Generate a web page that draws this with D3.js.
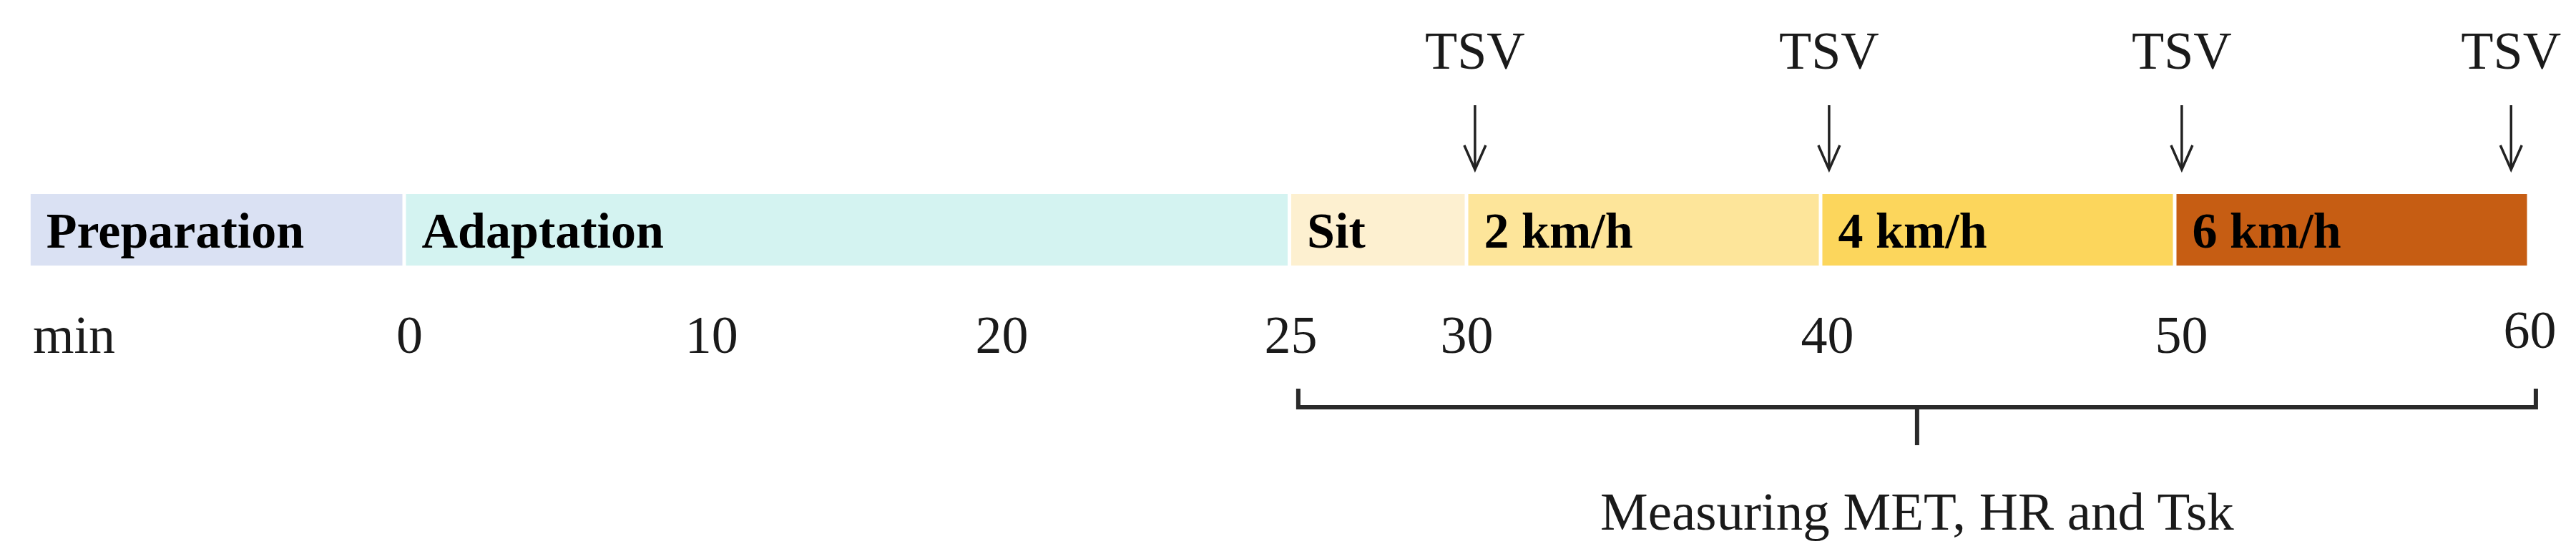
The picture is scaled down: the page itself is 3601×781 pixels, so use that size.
<!DOCTYPE html>
<html>
<head>
<meta charset="utf-8">
<script src="https://cdn.jsdelivr.net/npm/d3@7"></script>
<style>
  html, body { margin: 0; padding: 0; background: #fff; }
  svg { display: block; }
</style>
</head>
<body>
<div id="chart"></div>
<script>
// ---- data ----
const phases     = ["Preparation", "Adaptation", "Sit", "2 km/h", "4 km/h", "6 km/h"];
const phaseStart = [-10.6, 0, 25, 30, 40, 50];
const phaseEnd   = [0, 25, 30, 40, 50, 60];
const phaseColors = ["#dae1f3", "#d4f3f1", "#fdf0d0", "#fde59a", "#fcd65c", "#c65d13"];

const tickLabels = ["0", "10", "20", "25", "30", "40", "50", "60"];
const tickAt     = [0.14, 8.67, 16.87, 25.03, 30.0, 40.18, 50.18, 60.02];

const tsvLabel = "TSV";
const tsvAt    = [30.24, 40.24, 50.2, 59.5];

const unitLabel = "min";
const bracketRange = [25.25, 60.2];
const bracketLabel = "Measuring MET, HR and Tsk";

// ---- layout ----
const W = 3601, H = 781;
const serif = "'Liberation Serif', 'Times New Roman', Times, serif";
const ink = "#1a1a1a";

const svg = d3.select("#chart").append("svg")
  .attr("width", W).attr("height", H)
  .attr("viewBox", `0 0 ${W} ${H}`);

svg.append("rect").attr("width", W).attr("height", H).attr("fill", "#fff");

const x = d3.scaleLinear().domain([0, 60]).range([565, 3535]);

const barTop = 271, barBottom = 371, gap = 2.5;

const segs = phases.map((p, i) => ({ name: p, s: phaseStart[i], e: phaseEnd[i], c: phaseColors[i] }));

// bars
svg.append("g").selectAll("rect").data(segs).join("rect")
  .attr("x", d => x(d.s) + gap)
  .attr("y", barTop)
  .attr("width", d => x(d.e) - x(d.s) - 2 * gap)
  .attr("height", barBottom - barTop)
  .attr("fill", d => d.c);

// bar labels
svg.append("g").selectAll("text").data(segs).join("text")
  .attr("x", d => x(d.s) + gap + 22)
  .attr("y", 346)
  .attr("font-family", serif)
  .attr("font-weight", "bold")
  .attr("font-size", 70)
  .attr("fill", "#000")
  .text(d => d.name);

// time axis (labels only)
const axis = d3.axisBottom(x)
  .tickValues(tickAt)
  .tickFormat((d, i) => tickLabels[i])
  .tickSize(0)
  .tickPadding(0);

const gAxis = svg.append("g").attr("transform", "translate(0,493)").call(axis);
gAxis.select(".domain").remove();
gAxis.selectAll("text")
  .attr("y", 0)
  .attr("dy", (d, i) => i === tickLabels.length - 1 ? -7 : 0)
  .attr("font-family", serif)
  .attr("font-size", 74)
  .attr("fill", ink);

svg.append("text")
  .attr("x", 46).attr("y", 493)
  .attr("font-family", serif)
  .attr("font-size", 74)
  .attr("fill", ink)
  .text(unitLabel);

// TSV labels and arrows
const gT = svg.append("g");
gT.selectAll("text").data(tsvAt).join("text")
  .attr("x", d => x(d))
  .attr("y", 96)
  .attr("text-anchor", "middle")
  .attr("font-family", serif)
  .attr("font-size", 74)
  .attr("fill", ink)
  .text(tsvLabel);

gT.selectAll("path.shaft").data(tsvAt).join("path")
  .attr("class", "shaft")
  .attr("d", d => `M${x(d)},147 V236`)
  .attr("stroke", "#222").attr("stroke-width", 3.5).attr("fill", "none");

gT.selectAll("path.head").data(tsvAt).join("path")
  .attr("class", "head")
  .attr("d", d => `M${x(d) - 15},203 L${x(d)},237 L${x(d) + 15},203`)
  .attr("stroke", "#222").attr("stroke-width", 3.5).attr("fill", "none")
  .attr("stroke-linejoin", "miter");

// bracket
const bx0 = x(bracketRange[0]), bx1 = x(bracketRange[1]), bmid = (bx0 + bx1) / 2;
svg.append("path")
  .attr("d", `M${bx0},543 V569 H${bx1} V543`)
  .attr("stroke", "#2a2a2a").attr("stroke-width", 6).attr("fill", "none");
svg.append("path")
  .attr("d", `M${bmid},569 V622`)
  .attr("stroke", "#2a2a2a").attr("stroke-width", 6).attr("fill", "none");

svg.append("text")
  .attr("x", bmid).attr("y", 740)
  .attr("text-anchor", "middle")
  .attr("font-family", serif)
  .attr("font-size", 75)
  .attr("fill", ink)
  .text(bracketLabel);
</script>
</body>
</html>
